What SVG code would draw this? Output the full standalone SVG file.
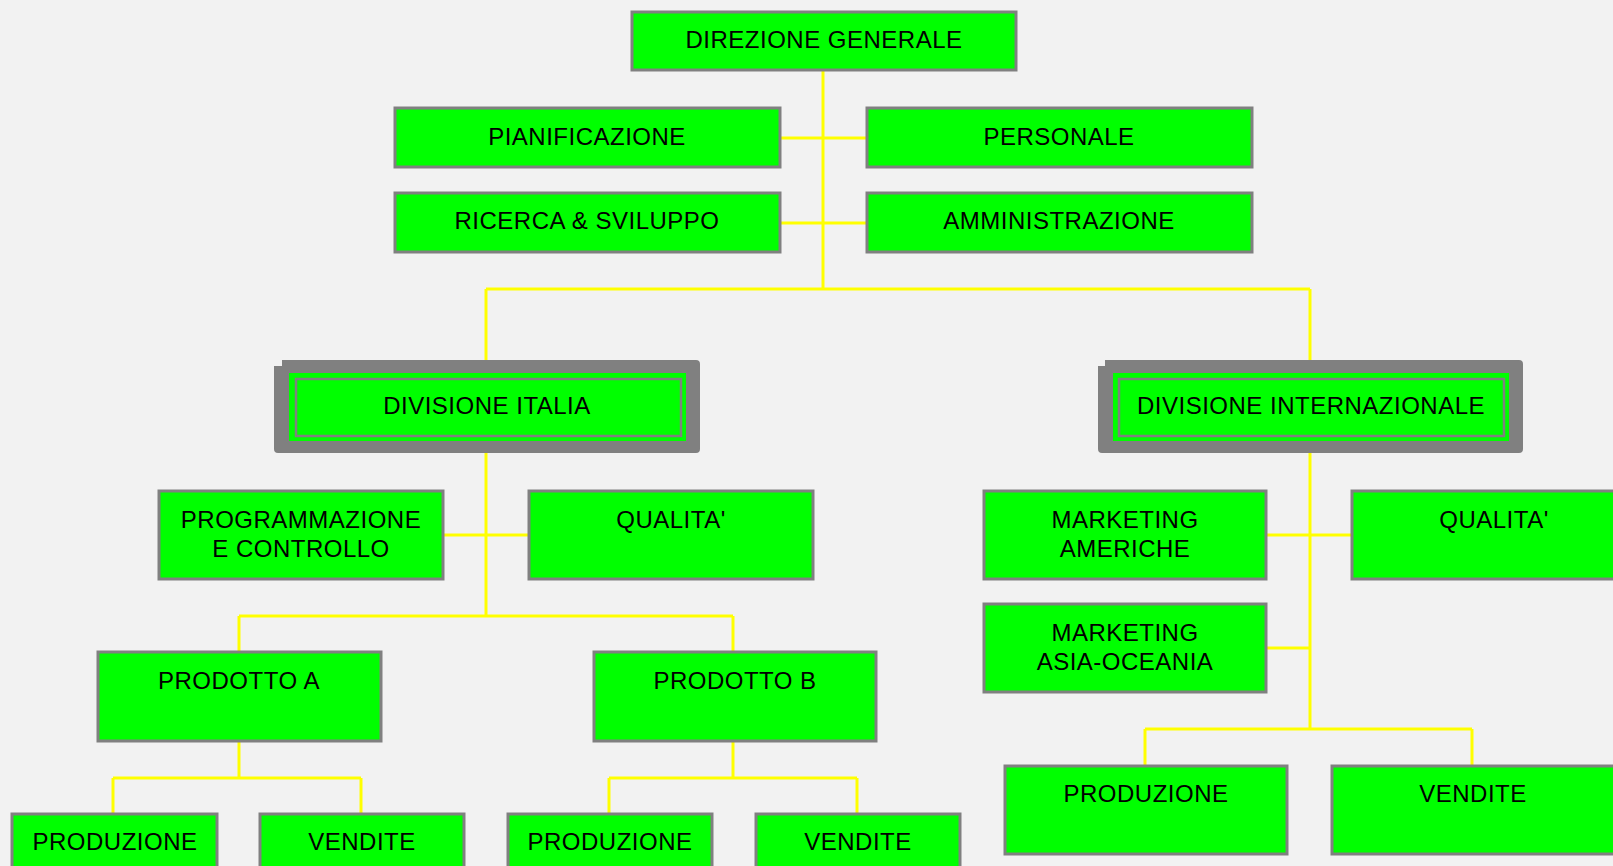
<svg xmlns="http://www.w3.org/2000/svg" width="1613" height="866" viewBox="0 0 1613 866">
<style>
.b{fill:#00ff00;stroke:#808080;stroke-width:3}
.t{font-family:"Liberation Sans",Arial,sans-serif;font-size:24px;letter-spacing:0.5px;fill:#000;text-anchor:middle}
.c{stroke:#ffff00;stroke-width:3;fill:none}
.sh{fill:#808080}
.gi{fill:#00ff00}
.gl{fill:#00ff00;stroke:#808080;stroke-width:2.5}
</style>
<rect width="1613" height="866" fill="#f2f2f2"/>
<g id="connectors">
<path class="c" d="M823 70V289M486 289H1310M486 289V360M1310 289V360M780 138H867M780 223H867"/>
<path class="c" d="M486 453V616M443 535H529M239 616H733M239 616V652M733 616V652"/>
<path class="c" d="M239 741V778M113 778H361M113 778V814M361 778V814"/>
<path class="c" d="M733 741V778M609 778H857M609 778V814M857 778V814"/>
<path class="c" d="M1310 453V729M1266 535H1352M1266 648H1310M1145 729H1472M1145 729V766M1472 729V766"/>
</g>
<g id="n-direzione"><rect class="b" x="632" y="12" width="384" height="58"/><text class="t" x="824" y="48">DIREZIONE GENERALE</text></g>
<g id="n-pianificazione"><rect class="b" x="395" y="108" width="385" height="59"/><text class="t" x="587" y="145">PIANIFICAZIONE</text></g>
<g id="n-ricerca"><rect class="b" x="395" y="193" width="385" height="59"/><text class="t" x="587" y="229">RICERCA &amp; SVILUPPO</text></g>
<g id="n-personale"><rect class="b" x="867" y="108" width="385" height="59"/><text class="t" x="1059" y="145">PERSONALE</text></g>
<g id="n-amministrazione"><rect class="b" x="867" y="193" width="385" height="59"/><text class="t" x="1059" y="229">AMMINISTRAZIONE</text></g>
<g id="n-div-italia">
<path class="sh" d="M282 360H696Q700 360 700 364V449Q700 453 696 453H278Q274 453 274 449V366H282Z"/>
<rect class="gi" x="289" y="373" width="397" height="68"/>
<rect class="gl" x="296" y="379" width="385" height="57"/>
<text class="t" x="487" y="414">DIVISIONE ITALIA</text>
</g>
<g id="n-div-int">
<path class="sh" d="M1105 360H1519Q1523 360 1523 364V449Q1523 453 1519 453H1102Q1098 453 1098 449V366H1105Z"/>
<rect class="gi" x="1113" y="373" width="396" height="68"/>
<rect class="gl" x="1119" y="379" width="385" height="57"/>
<text class="t" x="1311" y="414">DIVISIONE INTERNAZIONALE</text>
</g>
<g id="n-programmazione"><rect class="b" x="159" y="491" width="284" height="88"/><text class="t" x="301" y="528">PROGRAMMAZIONE</text><text class="t" x="301" y="557">E CONTROLLO</text></g>
<g id="n-qualita-it"><rect class="b" x="529" y="491" width="284" height="88"/><text class="t" x="671" y="528">QUALITA'</text></g>
<g id="n-prodotto-a"><rect class="b" x="98" y="652" width="283" height="89"/><text class="t" x="239" y="689">PRODOTTO A</text></g>
<g id="n-prodotto-b"><rect class="b" x="594" y="652" width="282" height="89"/><text class="t" x="735" y="689">PRODOTTO B</text></g>
<g id="n-prod-a-produzione"><rect class="b" x="12" y="814" width="205" height="70"/><text class="t" x="115" y="850">PRODUZIONE</text></g>
<g id="n-prod-a-vendite"><rect class="b" x="260" y="814" width="204" height="70"/><text class="t" x="362" y="850">VENDITE</text></g>
<g id="n-prod-b-produzione"><rect class="b" x="508" y="814" width="204" height="70"/><text class="t" x="610" y="850">PRODUZIONE</text></g>
<g id="n-prod-b-vendite"><rect class="b" x="756" y="814" width="204" height="70"/><text class="t" x="858" y="850">VENDITE</text></g>
<g id="n-mkt-americhe"><rect class="b" x="984" y="491" width="282" height="88"/><text class="t" x="1125" y="528">MARKETING</text><text class="t" x="1125" y="557">AMERICHE</text></g>
<g id="n-qualita-int"><rect class="b" x="1352" y="491" width="290" height="88"/><text class="t" x="1494" y="528">QUALITA'</text></g>
<g id="n-mkt-asia"><rect class="b" x="984" y="604" width="282" height="88"/><text class="t" x="1125" y="641">MARKETING</text><text class="t" x="1125" y="670">ASIA-OCEANIA</text></g>
<g id="n-int-produzione"><rect class="b" x="1005" y="766" width="282" height="88"/><text class="t" x="1146" y="802">PRODUZIONE</text></g>
<g id="n-int-vendite"><rect class="b" x="1332" y="766" width="290" height="88"/><text class="t" x="1473" y="802">VENDITE</text></g>
</svg>
